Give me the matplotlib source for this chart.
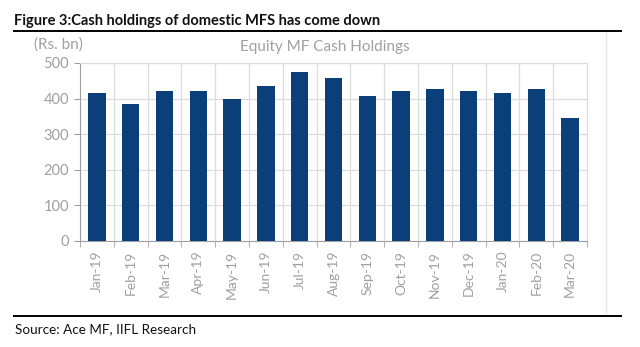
import matplotlib
matplotlib.use("Agg")
import matplotlib.pyplot as plt
from matplotlib.lines import Line2D
import numpy as np

months = ["Jan-19", "Feb-19", "Mar-19", "Apr-19", "May-19", "Jun-19", "Jul-19",
          "Aug-19", "Sep-19", "Oct-19", "Nov-19", "Dec-19", "Jan-20", "Feb-20", "Mar-20"]
cash_holdings = [417, 386, 421, 420, 398, 435, 474, 459, 408, 421, 427, 421, 415, 428, 346]
y_ticks = [0, 100, 200, 300, 400, 500]

W, H = 640, 347
fig = plt.figure(figsize=(W / 100, H / 100), dpi=100)
plt.rcParams['font.family'] = ['Lato', 'DejaVu Sans']

def fx(px):
    return px / W

def fy(py):
    return 1 - py / H

ax = fig.add_axes([fx(80), fy(241), fx(587) - fx(80), fy(63) - fy(241)])
x = np.arange(len(months))
ax.bar(x, cash_holdings, width=0.52, color="#0B3F7A", zorder=3)
ax.set_xlim(-0.5, len(months) - 0.5)
ax.set_ylim(0, 500)
ax.set_yticks(y_ticks)
ax.set_yticklabels([str(v) for v in y_ticks], color="#A0A0A0", fontsize=10.5)
ax.set_xticks(x)
ax.set_xticklabels(months, rotation=90, color="#A0A0A0", fontsize=10)
ax.set_xticks(np.arange(-0.5, len(months)), minor=True)
ax.tick_params(axis="x", which="major", length=0, pad=7)
ax.tick_params(axis="x", which="minor", length=4, color="#A0A0A0", direction="out")
ax.tick_params(axis="y", length=4, color="#A0A0A0", pad=4)
ax.grid(axis="y", color="#DCDCDC", linewidth=0.9, zorder=0)
ax.grid(axis="x", which="minor", color="#DCDCDC", linewidth=0.9, zorder=0)
for s in ["top", "right"]:
    ax.spines[s].set_color("#DCDCDC")
for s in ["left", "bottom"]:
    ax.spines[s].set_color("#A0A0A0")

fig.text(fx(14), fy(21), "Figure 3:Cash holdings of domestic MFS has come down",
         fontsize=10.5, fontweight="bold", ha="left", va="center", color="#111111")
fig.add_artist(Line2D([fx(14), fx(621)], [fy(31), fy(31)], color="black", linewidth=1.4))
fig.add_artist(Line2D([fx(14), fx(621)], [fy(316), fy(316)], color="black", linewidth=1.4))
fig.add_artist(Line2D([fx(606), fx(606)], [fy(33), fy(312)], color="#E6E6E6", linewidth=0.9))
fig.text(fx(34), fy(45), "(Rs. bn)", fontsize=11, color="#A0A0A0", ha="left", va="center")
fig.text(fx(325), fy(47), "Equity MF Cash Holdings", fontsize=11, color="#A0A0A0",
         ha="center", va="center")
fig.text(fx(15), fy(329), "Source: Ace MF, IIFL Research", fontsize=9.7, color="#111111",
         ha="left", va="center")

fig.savefig("out.png", dpi=100)
